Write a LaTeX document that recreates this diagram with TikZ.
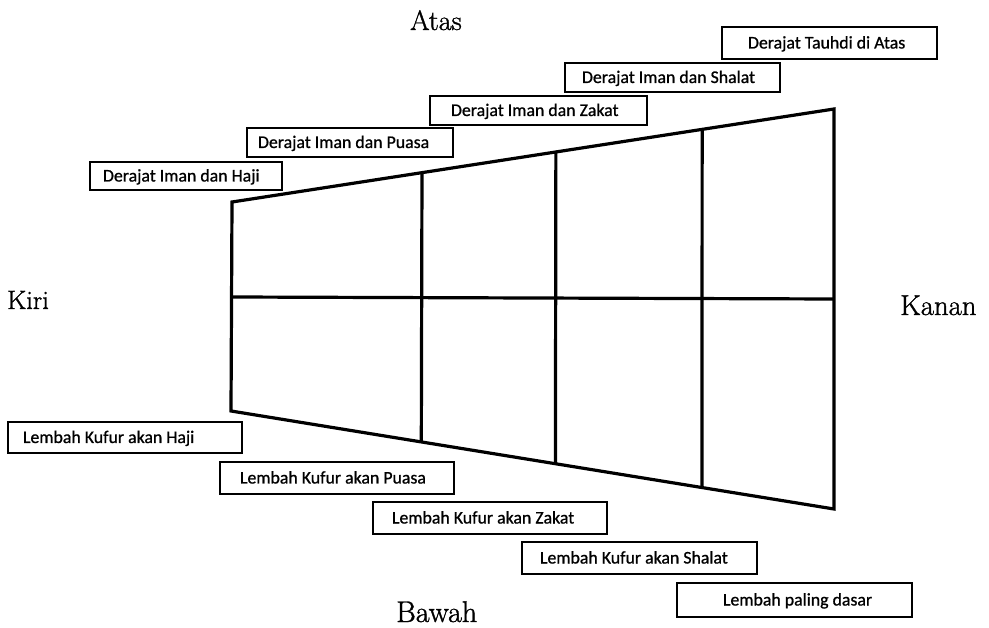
\documentclass[tikz,border=0pt]{standalone}
\usepackage{fontspec}
\newfontfamily\boxfont{Carlito}
\newfontfamily\sidefont[FakeBold=1.2]{Latin Modern Roman}
\usetikzlibrary{calc}
\begin{document}
\begin{tikzpicture}[x=1pt,y=-1pt,
  lbl/.style={draw, line width=1.9pt, inner sep=0pt, text height=14pt, text depth=3pt,
    font=\boxfont\fontsize{17.8}{20}\selectfont\addfontfeatures{FakeBold=0.9}},
  side/.style={inner sep=0pt, anchor=base west},
  frame/.style={line width=3.2pt, line join=miter}]
\useasboundingbox (0,0) rectangle (989,628);
% trapezoid corners
\coordinate (TL) at (232,202);
\coordinate (TR) at (834,109);
\coordinate (BR) at (834,509);
\coordinate (BL) at (231,411);
\coordinate (ML) at (232,297);
\coordinate (MR) at (834,299);
\draw[frame] (TL) -- (TR) -- (BR) -- (BL) -- cycle;
\draw[frame] (ML) -- (MR);
\foreach \t [count=\i] in {0.3156,0.538,0.781}{
  \coordinate (T\i) at ($(TL)!\t!(TR)$);
  \coordinate (B\i) at ($(BL)!\t!(BR)$);
  \draw[frame] (T\i) -- (B\i);
}
% side labels
\node[side, font=\sidefont\fontsize{28}{30}\selectfont] (atas) at (410,30) {Atas};
\node[side, font=\sidefont\fontsize{26.5}{30}\selectfont] (kiri) at (7,309) {Kiri};
\node[side, font=\sidefont\fontsize{28.7}{30}\selectfont] (kanan) at (900,315) {Kanan};
\node[side, font=\sidefont\fontsize{30}{32}\selectfont] (bawah) at (396,622) {Bawah};
% boxes
\node[lbl, minimum height=32pt] (dTauhdi) at (829.5,43) {\makebox[215pt][l]{\hspace{26pt}Derajat Tauhdi di Atas}};
\node[lbl, minimum height=29pt] (dShalat) at (672.5,77.5) {\makebox[215pt][l]{\hspace{17pt}Derajat Iman dan Shalat}};
\node[lbl, minimum height=29pt] (dZakat) at (538.5,110.5) {\makebox[217pt][l]{\hspace{21pt}Derajat Iman dan Zakat}};
\node[lbl, minimum height=29pt] (dPuasa) at (350,142.5) {\makebox[206pt][l]{\hspace{11pt}Derajat Iman dan Puasa}};
\node[lbl, minimum height=28pt] (dHaji) at (186,176) {\makebox[192pt][l]{\hspace{13pt}Derajat Iman dan Haji}};
\node[lbl, minimum height=31pt] (lHaji) at (125,437.5) {\makebox[234pt][l]{\hspace{15pt}Lembah Kufur akan Haji}};
\node[lbl, minimum height=32pt] (lPuasa) at (337,478) {\makebox[234pt][l]{\hspace{20pt}Lembah Kufur akan Puasa}};
\node[lbl, minimum height=32pt] (lZakat) at (490,518) {\makebox[234pt][l]{\hspace{19pt}Lembah Kufur akan Zakat}};
\node[lbl, minimum height=32pt] (lShalat) at (639.5,558) {\makebox[235pt][l]{\hspace{18pt}Lembah Kufur akan Shalat}};
\node[lbl, minimum height=34pt] (lDasar) at (794.5,600) {\makebox[235pt][l]{\hspace{46pt}Lembah paling dasar}};
\end{tikzpicture}
\end{document}
